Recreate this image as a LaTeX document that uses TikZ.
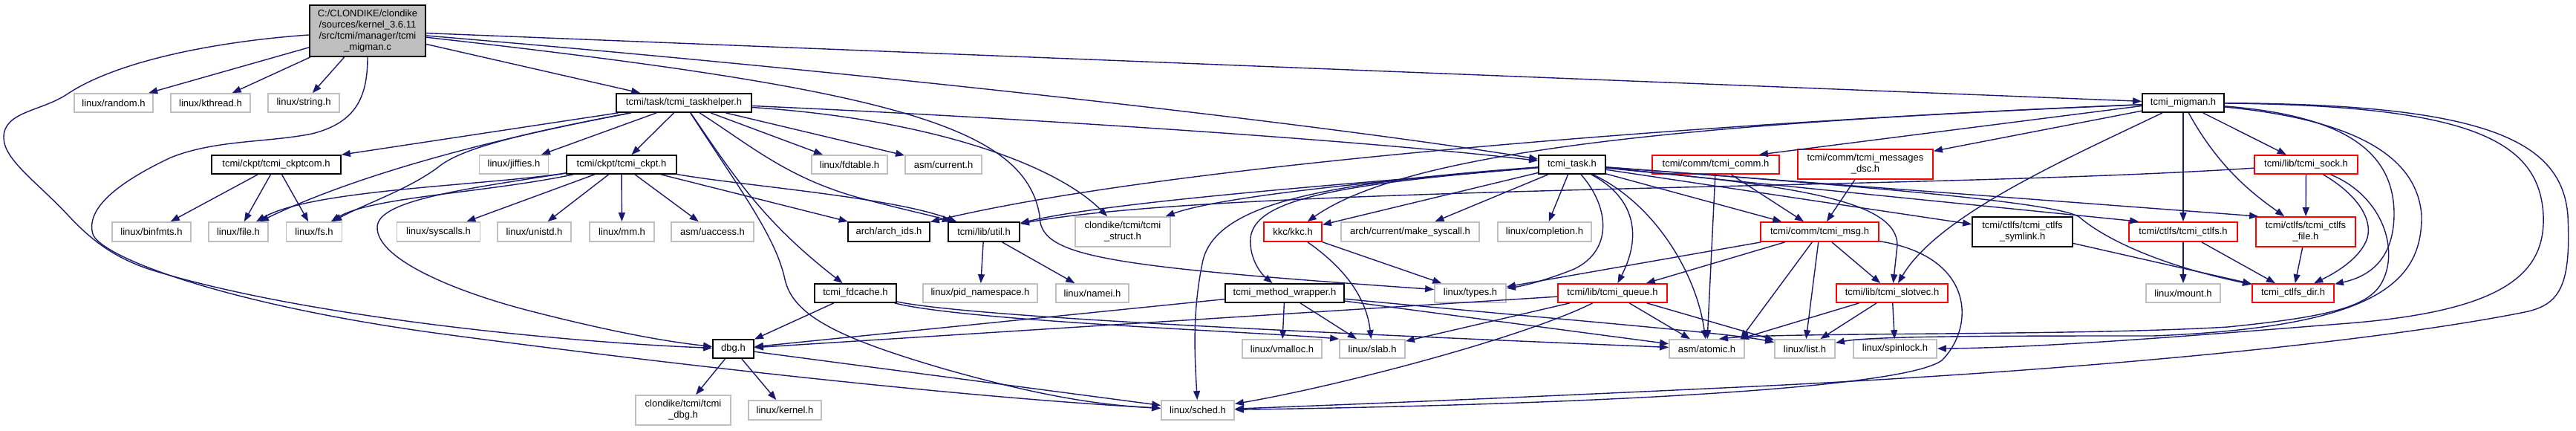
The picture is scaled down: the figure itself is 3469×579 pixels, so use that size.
\documentclass[tikz,border=0pt]{standalone}
\usepackage{fontspec}
\setmainfont{Liberation Sans}
\usetikzlibrary{arrows.meta}
\definecolor{edgec}{HTML}{191970}
\definecolor{greyl}{HTML}{BFBFBF}
\definecolor{redc}{HTML}{FF0000}
\tikzset{
  box/.style={rectangle, inner sep=0pt, line width=1.8pt, align=center, font=\fontsize{13}{15}\selectfont, text=black},
  ext/.style={box, draw=greyl, fill=white},
  doc/.style={box, draw=black, fill=white},
  trc/.style={box, draw=redc, fill=white},
  rootn/.style={box, draw=black, fill=greyl},
  conn/.style={draw=edgec, line width=1.4pt, -{Triangle[length=12pt,width=9pt,fill=edgec]}},
}
\begin{document}
\begin{tikzpicture}[x=1pt,y=-1pt]
\fill[white] (0,0) rectangle (3469,579);
\useasboundingbox (0,0) rectangle (3469,579);

% ---------- nodes ----------
\node[rootn, minimum width=156pt, minimum height=69pt] (R) at (495,41.5) {C:/CLONDIKE/clondike\\/sources/kernel\_3.6.11\\/src/tcmi/manager/tcmi\\\_migman.c};
% row 1
\node[ext, minimum width=106pt, minimum height=25pt] (rnd) at (153,138.5) {linux/random.h};
\node[ext, minimum width=107pt, minimum height=25pt] (kth) at (283.5,138.5) {linux/kthread.h};
\node[ext, minimum width=96pt, minimum height=25pt] (str) at (409,138.5) {linux/string.h};
\node[doc, minimum width=182pt, minimum height=25pt] (TH) at (921,138.5) {tcmi/task/tcmi\_taskhelper.h};
\node[doc, minimum width=110pt, minimum height=25pt] (MG) at (2940,138.5) {tcmi\_migman.h};
% row 2
\node[doc, minimum width=174pt, minimum height=25pt] (ckc) at (372,221.5) {tcmi/ckpt/tcmi\_ckptcom.h};
\node[ext, minimum width=93pt, minimum height=25pt] (jif) at (692,221.5) {linux/jiffies.h};
\node[doc, minimum width=148pt, minimum height=25pt] (ckp) at (837,221.5) {tcmi/ckpt/tcmi\_ckpt.h};
\node[ext, minimum width=102pt, minimum height=25pt] (fdt) at (1144,221.5) {linux/fdtable.h};
\node[ext, minimum width=103pt, minimum height=25pt] (cur) at (1270.5,221.5) {asm/current.h};
\node[doc, minimum width=90pt, minimum height=25pt] (T) at (2117,221.5) {tcmi\_task.h};
\node[trc, minimum width=171pt, minimum height=25pt] (com) at (2310.5,221.5) {tcmi/comm/tcmi\_comm.h};
\node[trc, minimum width=182pt, minimum height=40pt] (MD) at (2512,221) {tcmi/comm/tcmi\_messages\\\_dsc.h};
\node[trc, minimum width=139pt, minimum height=25pt] (sck) at (3105.5,221.5) {tcmi/lib/tcmi\_sock.h};
% row 3
\node[ext, minimum width=106pt, minimum height=26pt] (bin) at (204,312) {linux/binfmts.h};
\node[ext, minimum width=80pt, minimum height=26pt] (fil) at (321,312) {linux/file.h};
\node[ext, minimum width=75pt, minimum height=26pt] (fs) at (423,312) {linux/fs.h};
\node[ext, minimum width=112pt, minimum height=26pt] (sys) at (590.5,312) {linux/syscalls.h};
\node[ext, minimum width=99pt, minimum height=26pt] (uni) at (719.5,312) {linux/unistd.h};
\node[ext, minimum width=87pt, minimum height=26pt] (mm) at (837.5,312) {linux/mm.h};
\node[ext, minimum width=111pt, minimum height=26pt] (uac) at (959.5,312) {asm/uaccess.h};
\node[doc, minimum width=110pt, minimum height=26pt] (aid) at (1197,312) {arch/arch\_ids.h};
\node[doc, minimum width=96pt, minimum height=26pt] (utl) at (1325,312) {tcmi/lib/util.h};
\node[ext, minimum width=128pt, minimum height=40pt] (stc) at (1512,312) {clondike/tcmi/tcmi\\\_struct.h};
\node[trc, minimum width=78pt, minimum height=26pt] (kkc) at (1741,312) {kkc/kkc.h};
\node[ext, minimum width=186pt, minimum height=26pt] (mks) at (1899,312) {arch/current/make\_syscall.h};
\node[ext, minimum width=126pt, minimum height=26pt] (cmp) at (2080,312) {linux/completion.h};
\node[trc, minimum width=159pt, minimum height=26pt] (msg) at (2450.5,312) {tcmi/comm/tcmi\_msg.h};
\node[doc, minimum width=135pt, minimum height=40pt] (sym) at (2723.5,312) {tcmi/ctlfs/tcmi\_ctlfs\\\_symlink.h};
\node[trc, minimum width=146pt, minimum height=26pt] (ctl) at (2940,312) {tcmi/ctlfs/tcmi\_ctlfs.h};
\node[trc, minimum width=134pt, minimum height=40pt] (ctf) at (3105,312) {tcmi/ctlfs/tcmi\_ctlfs\\\_file.h};
% row 4
\node[doc, minimum width=110pt, minimum height=25pt] (fdc) at (1152,394.5) {tcmi\_fdcache.h};
\node[ext, minimum width=154pt, minimum height=25pt] (pid) at (1320,394.5) {linux/pid\_namespace.h};
\node[ext, minimum width=98pt, minimum height=25pt] (nmi) at (1471,394.5) {linux/namei.h};
\node[doc, minimum width=160pt, minimum height=25pt] (mw) at (1730,394.5) {tcmi\_method\_wrapper.h};
\node[ext, minimum width=96pt, minimum height=25pt] (typ) at (1980,394.5) {linux/types.h};
\node[trc, minimum width=147pt, minimum height=25pt] (que) at (2171.5,394.5) {tcmi/lib/tcmi\_queue.h};
\node[trc, minimum width=150pt, minimum height=25pt] (sv) at (2548,394.5) {tcmi/lib/tcmi\_slotvec.h};
\node[ext, minimum width=100pt, minimum height=25pt] (mnt) at (2940,394.5) {linux/mount.h};
\node[trc, minimum width=110pt, minimum height=25pt] (ctd) at (3088,394.5) {tcmi\_ctlfs\_dir.h};
% row 5
\node[doc, minimum width=55pt, minimum height=25pt] (dbg) at (987.5,469.5) {dbg.h};
\node[ext, minimum width=107pt, minimum height=25pt] (vma) at (1726.5,469.5) {linux/vmalloc.h};
\node[ext, minimum width=88pt, minimum height=25pt] (slb) at (1848,469.5) {linux/slab.h};
\node[ext, minimum width=101pt, minimum height=25pt] (atm) at (2298.5,469.5) {asm/atomic.h};
\node[ext, minimum width=81pt, minimum height=25pt] (lst) at (2430.5,469.5) {linux/list.h};
\node[ext, minimum width=112pt, minimum height=25pt] (spl) at (2552,469.5) {linux/spinlock.h};
% row 6
\node[ext, minimum width=128pt, minimum height=40pt] (tdb) at (920,552) {clondike/tcmi/tcmi\\\_dbg.h};
\node[ext, minimum width=98pt, minimum height=26pt] (ker) at (1057,552) {linux/kernel.h};
\node[ext, minimum width=98pt, minimum height=26pt] (sch) at (1613,552) {linux/sched.h};

% ---------- edges: root ----------
\draw[conn] (R) -- (rnd);
\draw[conn] (R) -- (kth);
\draw[conn] (R) -- (str);
\draw[conn] (R) -- (TH);
\draw[conn] (R) -- (MG);
\draw[conn] (R) .. controls (1200,100) and (1800,170) .. (T);
\draw[conn] (R) .. controls (1200,120) and (1380,170) .. (1400,290) .. controls (1400,345) and (1480,358) .. ([yshift=5pt]typ.west);
\draw[conn] (R) .. controls (300,55) and (160,80) .. (90,127) .. controls (55,150) and (5,150) .. (5,185) .. controls (5,215) and (50,245) .. (92,290) .. controls (120,320) and (150,345) .. (200,362) .. controls (400,425) and (750,460) .. (dbg);
\draw[conn] (R) .. controls (495,130) and (480,165) .. (420,180) .. controls (360,192) and (290,188) .. (230,212) .. controls (160,245) and (115,280) .. (125,315) .. controls (135,345) and (300,410) .. (600,450) .. controls (900,490) and (1300,535) .. (sch);

% ---------- taskhelper ----------
\draw[conn] (TH) -- (ckc);
\draw[conn] (TH) .. controls (620,195) and (460,245) .. (fil);
\draw[conn] (TH) .. controls (700,180) and (620,200) .. (590,225) .. controls (550,255) and (490,275) .. (fs);
\draw[conn] (TH) -- (jif);
\draw[conn] (TH) -- (ckp);
\draw[conn] (TH) .. controls (990,240) and (1030,300) .. (fdc);
\draw[conn] (TH) .. controls (1000,260) and (1045,320) .. (1057,376) .. controls (1068,425) and (1130,455) .. (1270,496) .. controls (1400,533) and (1480,545) .. (sch);
\draw[conn] (TH) .. controls (1010,195) and (1060,240) .. (1160,267) .. controls (1220,283) and (1255,290) .. (utl);
\draw[conn] (TH) -- (fdt);
\draw[conn] (TH) -- (cur);
\draw[conn] (TH) .. controls (1300,155) and (1800,185) .. (T);
\draw[conn] (TH) .. controls (1250,160) and (1420,220) .. (stc);

% ---------- ckptcom / ckpt ----------
\draw[conn] (ckc) -- (bin);
\draw[conn] (ckc) -- (fil);
\draw[conn] (ckc) -- (fs);
\draw[conn] (ckp) .. controls (650,250) and (420,255) .. (fil);
\draw[conn] (ckp) .. controls (650,260) and (500,265) .. (fs);
\draw[conn] (ckp) .. controls (620,255) and (510,270) .. (508,305) .. controls (506,350) and (620,395) .. (720,420) .. controls (830,448) and (900,460) .. (dbg);
\draw[conn] (ckp) -- (sys);
\draw[conn] (ckp) -- (uni);
\draw[conn] (ckp) -- (mm);
\draw[conn] (ckp) -- (uac);
\draw[conn] (ckp) -- (aid);
\draw[conn] (ckp) .. controls (1000,250) and (1200,265) .. (utl);

% ---------- fdcache / method wrapper / queue ----------
\draw[conn] (fdc) -- (dbg);
\draw[conn] (fdc) .. controls (1300,432) and (1700,447) .. (slb.north west);
\draw[conn] (fdc) .. controls (1300,425) and (1700,445) .. (atm);
\draw[conn] (mw) -- (dbg);
\draw[conn] (mw) -- (vma);
\draw[conn] (mw) -- (slb);
\draw[conn] (mw) -- (atm);
\draw[conn] (mw) .. controls (2100,430) and (2330,448) .. (lst);
\draw[conn] (que) -- (dbg);
\draw[conn] (que) -- (slb);
\draw[conn] (que) -- (atm);
\draw[conn] (que) -- (lst);
\draw[conn] (que) .. controls (2050,455) and (1800,520) .. (sch);

% ---------- msg / slotvec / comm ----------
\draw[conn] (msg) -- (typ);
\draw[conn] (msg) -- (que);
\draw[conn] (msg) -- ([xshift=-6pt]atm.north east);
\draw[conn] (msg) -- (lst);
\draw[conn] (msg) -- (sv);
\draw[conn] (msg) .. controls (2660,345) and (2660,440) .. (2615,485) .. controls (2560,525) and (2100,545) .. (sch);
\draw[conn] (sv) -- (atm);
\draw[conn] (sv) -- (lst);
\draw[conn] (sv) -- (spl);
\draw[conn] (com) -- (msg);
\draw[conn] (com) -- (atm);
\draw[conn] (MD) -- (msg);

% ---------- task ----------
\draw[conn] (T) .. controls (1900,240) and (1650,262) .. (stc);
\draw[conn] (T) .. controls (1850,245) and (1500,270) .. (utl);
\draw[conn] (T) -- (kkc);
\draw[conn] (T) -- (mks);
\draw[conn] (T) -- (cmp);
\draw[conn] (T) .. controls (2165,275) and (2175,335) .. (2120,362) .. controls (2080,378) and (2050,385) .. (typ);
\draw[conn] (T) .. controls (1800,245) and (1640,270) .. (1620,350) .. controls (1605,420) and (1609,480) .. (sch);
\draw[conn] (T) .. controls (1800,248) and (1690,268) .. (1684,320) .. controls (1682,350) and (1700,370) .. (mw);
\draw[conn] (T) .. controls (2195,262) and (2215,310) .. (que);
\draw[conn] (T) .. controls (2230,275) and (2285,370) .. (atm);
\draw[conn] (T) -- (msg);
\draw[conn] (T) .. controls (2420,250) and (2555,270) .. (2555,330) -- (sv);
\draw[conn] (T) -- (sym);
\draw[conn] (T) -- ([xshift=14pt]ctl.north west);
\draw[conn] (T) .. controls (2500,250) and (2770,272) .. (2800,292) .. controls (2830,318) and (2900,355) .. (ctd);
\draw[conn] (T) -- ([xshift=4pt]ctf.north west);

% ---------- migman.h ----------
\draw[conn] ([yshift=-4pt]MG.west) -- ([xshift=-28pt]com.north east);
\draw[conn] (MG) -- (MD);
\draw[conn] (MG) -- (sck);
\draw[conn] (MG) -- (ctl);
\draw[conn] (MG) .. controls (2990,230) and (3040,265) .. (ctf);
\draw[conn] (MG) .. controls (2780,215) and (2610,290) .. (sv);
\draw[conn] (MG) .. controls (2400,160) and (1600,215) .. (aid);
\draw[conn] (MG) .. controls (2300,165) and (1900,200) .. (kkc);
\draw[conn] (MG) .. controls (3150,155) and (3225,200) .. (3224,290) .. controls (3223,340) and (3200,370) .. (ctd);
\draw[conn] (MG) .. controls (3160,160) and (3255,205) .. (3261,290) .. controls (3262,380) and (3200,440) .. (2900,452) .. controls (2700,452) and (2520,452) .. (lst);
\draw[conn] (MG) .. controls (3330,142) and (3420,190) .. (3425,290) .. controls (3428,370) and (3370,420) .. (3150,436) .. controls (2950,452) and (2750,468) .. (spl);
\draw[conn] (MG) .. controls (3350,140) and (3450,190) .. (3458,290) .. controls (3462,380) and (3450,410) .. (3400,420) .. controls (3200,460) and (2800,500) .. (2320,522) .. controls (2000,537) and (1800,545) .. (sch);

% ---------- sock ----------
\draw[conn] (sck) -- (ctf);
\draw[conn] (sck) .. controls (3175,262) and (3195,295) .. (3188,320) .. controls (3180,345) and (3150,365) .. (ctd);
\draw[conn] (sck) .. controls (3205,262) and (3230,330) .. (3210,375) .. controls (3195,410) and (3150,425) .. (3000,440) .. controls (2800,452) and (2400,447) .. ([xshift=-35pt]atm.north east);
\draw[conn] (sck) .. controls (2600,255) and (1650,250) .. ([yshift=-3pt]utl.north east);

% ---------- others ----------
\draw[conn] (kkc) .. controls (1810,360) and (1840,400) .. (slb);
\draw[conn] (kkc) -- (typ);
\draw[conn] (utl) -- (pid);
\draw[conn] (utl) -- (nmi);
\draw[conn] (dbg) -- (tdb);
\draw[conn] (dbg) -- (ker);
\draw[conn] (dbg) -- (sch);
\draw[conn] (ctl) -- (mnt);
\draw[conn] (ctl) -- (ctd);
\draw[conn] (ctf) -- (ctd);
\draw[conn] (sym) -- (ctd);
\end{tikzpicture}
\end{document}
